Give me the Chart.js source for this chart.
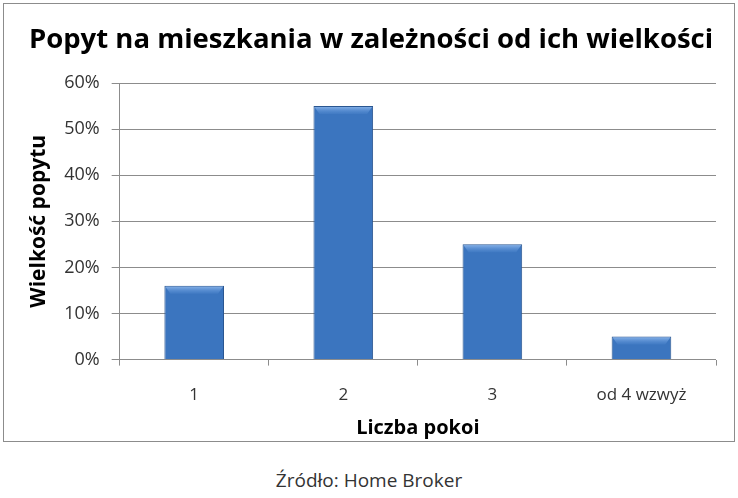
<!DOCTYPE html>
<html>
<head>
<meta charset="utf-8">
<script src="https://cdn.jsdelivr.net/npm/chart.js@4"></script>
<style>
  html, body { margin: 0; padding: 0; background: #fff; }
  body { width: 738px; height: 498px; position: relative; overflow: hidden; font-family: "Open Sans", sans-serif; }
  #frame { position: absolute; left: 3px; top: 3px; width: 730px; height: 437px; border: 1px solid #8c8c8c; }
  #frame canvas { display: block; }
  #source { position: absolute; left: 0; width: 738px; top: 467px; text-align: center; font-size: 19px; color: #333; }
</style>
</head>
<body>
<div id="frame"><canvas id="demandChart" width="730" height="437"></canvas></div>
<div id="source">Źródło: Home Broker</div>
<script>
// Chart data
const categories = ['1', '2', '3', 'od 4 wzwyż'];
const demand = [0.16, 0.55, 0.25, 0.05];
const yTicks = [0, 0.1, 0.2, 0.3, 0.4, 0.5, 0.6];

// blue bar with a soft bevel look
function barFill(context) {
  const chart = context.chart;
  const el = context.element;
  if (!chart.chartArea || !el || el.width === undefined) return '#3b75bf';
  const x0 = el.x - el.width / 2;
  const g = chart.ctx.createLinearGradient(x0, 0, x0 + el.width, 0);
  g.addColorStop(0, '#2a5796');
  g.addColorStop(0.1, '#3b77c5');
  g.addColorStop(0.45, '#4180cf');
  g.addColorStop(0.9, '#366fb9');
  g.addColorStop(1, '#26518b');
  return g;
}

// lighter bevel strip along the top of each bar
const bevelTop = {
  id: 'bevelTop',
  afterDatasetsDraw(chart) {
    const ctx = chart.ctx;
    chart.getDatasetMeta(0).data.forEach(bar => {
      const left = bar.x - bar.width / 2;
      const h = Math.min(8, bar.base - bar.y);
      const g = ctx.createLinearGradient(0, bar.y, 0, bar.y + h);
      g.addColorStop(0, 'rgba(150,190,240,0.9)');
      g.addColorStop(1, 'rgba(90,145,215,0.2)');
      ctx.save();
      ctx.fillStyle = g;
      ctx.beginPath();
      ctx.moveTo(left + 1, bar.y + 1);
      ctx.lineTo(left + bar.width - 1, bar.y + 1);
      ctx.lineTo(left + bar.width - 6, bar.y + h);
      ctx.lineTo(left + 6, bar.y + h);
      ctx.closePath();
      ctx.fill();
      ctx.restore();
    });
  }
};

function initChart() {
  new Chart(
    document.getElementById('demandChart'),
    {
      type: 'bar',
      data: {
        labels: categories,
        datasets: [{
          label: 'Wielkość popytu',
          data: demand,
          backgroundColor: barFill,
          borderColor: '#2a5690',
          borderWidth: 1,
          categoryPercentage: 1,
          barPercentage: 0.4
        }]
      },
      plugins: [bevelTop],
      options: {
        responsive: false,
        animation: false,
        layout: { padding: { top: 8, right: 18, left: 22, bottom: 3 } },
        plugins: {
          legend: { display: false },
          tooltip: { enabled: false },
          title: {
            display: true,
            text: 'Popyt na mieszkania w zależności od ich wielkości',
            color: '#000',
            font: { family: 'Open Sans', size: 27.5, weight: 'bold' },
            padding: { top: 12, bottom: 26 }
          }
        },
        scales: {
          x: {
            offset: true,
            grid: { display: true, drawOnChartArea: false, offset: true, tickLength: 6, color: '#8c8c8c' },
            border: { display: false },
            ticks: { color: '#333', font: { family: 'Open Sans', size: 17 }, padding: 19 },
            title: {
              display: true,
              text: 'Liczba pokoi',
              color: '#000',
              font: { family: 'Open Sans', size: 20, weight: 'bold', lineHeight: 1 },
              padding: { top: -6, bottom: 0 }
            }
          },
          y: {
            min: 0,
            max: 0.6,
            afterBuildTicks: function(axis) {
              axis.ticks = yTicks.map(v => ({ value: v }));
            },
            grid: { color: '#8c8c8c', tickLength: 8 },
            border: { display: true, color: '#8c8c8c' },
            ticks: {
              color: '#333',
              font: { family: 'Open Sans', size: 18 },
              padding: 12,
              callback: v => Math.round(v * 100) + '%'
            },
            title: {
              display: true,
              text: 'Wielkość popytu',
              color: '#000',
              font: { family: 'Open Sans', size: 21, weight: 'bold' },
              padding: { top: 0, bottom: 1 }
            }
          }
        }
      }
    }
  );
}

initChart();
</script>
</body>
</html>
